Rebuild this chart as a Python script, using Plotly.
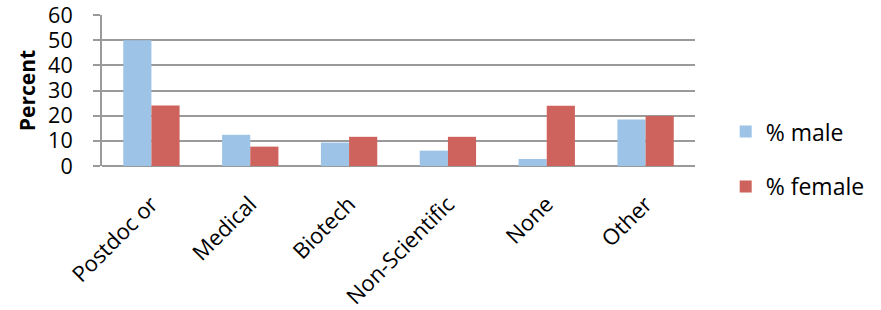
import plotly.graph_objects as go

categories = ["Postdoc or", "Medical", "Biotech", "Non-Scientific", "None", "Other"]
male = [50, 12.4, 9.3, 6.1, 2.8, 18.5]
female = [24, 7.7, 11.6, 11.6, 23.9, 19.9]
y_ticks = [0, 10, 20, 30, 40, 50, 60]

FONT = "'Open Sans', Lato, sans-serif"

fig = go.Figure()
fig.add_trace(go.Bar(x=categories, y=male, name="% male", marker_color="#9DC3E6",
                     marker_line_width=0, legendgroup="m"))
fig.add_trace(go.Bar(x=categories, y=female, name="% female", marker_color="#CD635C",
                     marker_line_width=0, legendgroup="f"))

fig.update_layout(
    width=881, height=310,
    margin=dict(l=102, r=185, t=15, b=144),
    paper_bgcolor="white", plot_bgcolor="white",
    barmode="group", bargap=0.43, bargroupgap=0,
    font=dict(family=FONT, color="black"),
    showlegend=True,
    legend=dict(x=1.05, xanchor="left", y=0.37, yanchor="top",
                font=dict(size=23, family=FONT), traceorder="grouped",
                tracegroupgap=22, itemwidth=30),
    xaxis=dict(showgrid=False, showline=False, ticks="", automargin=False,
               tickangle=-45, ticklabelstandoff=20,
               tickfont=dict(size=22, family=FONT)),
    yaxis=dict(range=[0, 60], tickvals=y_ticks, showgrid=True, gridcolor="#9A9A9A",
               gridwidth=2, showline=True, linecolor="#9A9A9A", linewidth=2,
               ticks="outside", ticklen=7, tickcolor="#9A9A9A", tickwidth=2,
               zeroline=True, zerolinecolor="#9A9A9A", zerolinewidth=2,
               automargin=False, ticklabelstandoff=16, ticklabeloverflow="allow",
               tickfont=dict(size=21.5, family=FONT),
               title=dict(text="<b>Percent</b>", font=dict(size=21, family=FONT), standoff=7)),
)

fig.write_html("out.html", config={"displayModeBar": False},
               post_script="document.body.style.margin='0';document.body.style.overflow='hidden';")
